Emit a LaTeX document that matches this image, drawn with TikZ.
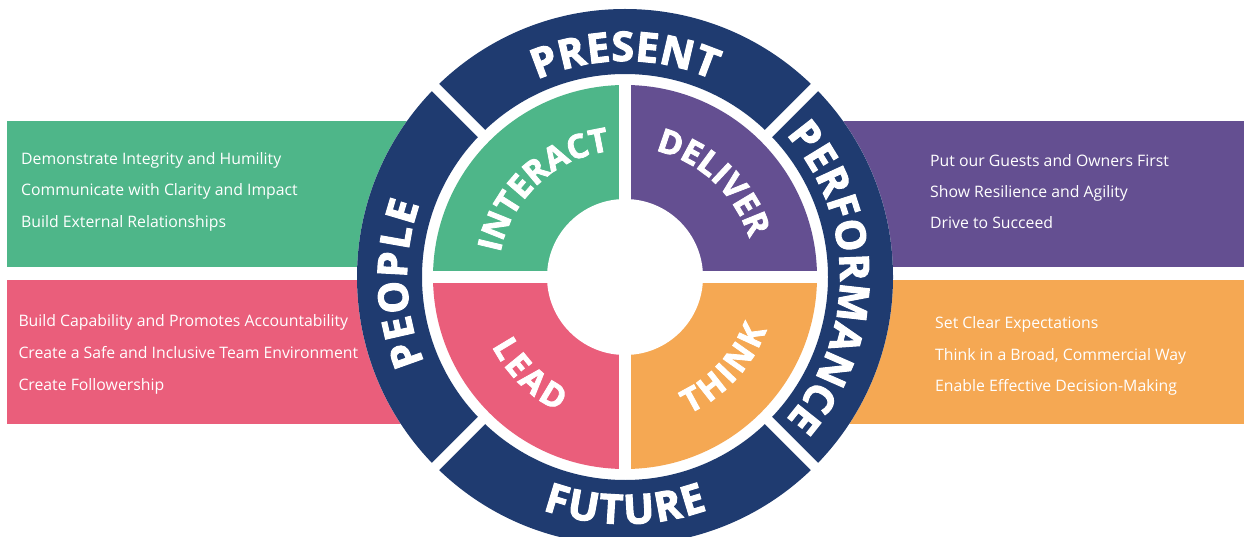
\documentclass[tikz,border=0pt]{standalone}
\usepackage{fontspec}
\setmainfont{Open Sans}
\newfontfamily\heavyfont{Open Sans}[BoldFeatures={FakeBold=2.5}]
\usetikzlibrary{calc,decorations.text}

\definecolor{wheelnavy}{HTML}{1F3B70}
\definecolor{mint}{HTML}{4EB689}
\definecolor{rose}{HTML}{EA5E7B}
\definecolor{grape}{HTML}{644F91}
\definecolor{amber}{HTML}{F5A853}

\newcommand\ringfont{\heavyfont\bfseries\fontsize{41pt}{43pt}\selectfont}
\newcommand\quadfont{\heavyfont\bfseries\fontsize{33pt}{35pt}\selectfont}
\newcommand\itemfont{\fontsize{15.8pt}{18pt}\selectfont}

\tikzset{
  item/.style={anchor=base west, inner sep=0pt, text=white, font=\itemfont},
  curved/.style 2 args={decorate, decoration={text along path,
      text color=white, text align=fit to path, text={|#1|#2}}},
  gapline/.style={white, line width=10pt},
  crossline/.style={white, line width=12pt},
}

\begin{document}
\begin{tikzpicture}[x=1pt,y=1pt]
\useasboundingbox (0,0) rectangle (1244,-537);
\coordinate (C) at (625,-277);

% coloured bands behind the wheel
\fill[mint]  (7,-121)   rectangle (625,-267);
\fill[rose]  (7,-280)   rectangle (625,-424);
\fill[grape] (625,-121) rectangle (1244,-267);
\fill[amber] (625,-280) rectangle (1244,-424);

% outer ring with four segments
\fill[white] (C) circle[radius=268pt];
\fill[wheelnavy, even odd rule] (C) circle[radius=268pt] (C) circle[radius=203pt];
\foreach \a in {45,135,225,315}
  \draw[gapline] ($(C)+(\a:198pt)$) -- ($(C)+(\a:272pt)$);

% inner quadrants
\fill[mint]  (C) -- ($(C)+(180:192pt)$) arc[start angle=180, end angle=90,  radius=192pt] -- cycle;
\fill[grape] (C) -- ($(C)+(90:192pt)$)  arc[start angle=90,  end angle=0,   radius=192pt] -- cycle;
\fill[amber] (C) -- ($(C)+(0:192pt)$)   arc[start angle=0,   end angle=-90, radius=192pt] -- cycle;
\fill[rose]  (C) -- ($(C)+(270:192pt)$) arc[start angle=270, end angle=180, radius=192pt] -- cycle;
\draw[crossline] ($(C)+(-198pt,0)$) -- ($(C)+(198pt,0)$);
\draw[crossline] ($(C)+(0,-198pt)$) -- ($(C)+(0,198pt)$);
\fill[white] (C) circle[radius=78pt];

% ring labels
\path[curved={\ringfont}{PRESENT}] ($(C)+(114:216pt)$) arc[start angle=114, end angle=66, radius=216pt];
\path[curved={\ringfont}{PEOPLE}] ($(C)+(203:218pt)$) arc[start angle=203, end angle=160.5, radius=218pt];
\path[curved={\ringfont}{PERFORMANCE}] ($(C)+(41.5:215pt)$) arc[start angle=41.5, end angle=-41.5, radius=215pt];
\path[curved={\ringfont}{FUTURE}] ($(C)+(250.5:247pt)$) arc[start angle=250.5, end angle=289.5, radius=247pt];

% quadrant labels
\path[curved={\quadfont}{INTERACT}] ($(C)+(169:127pt)$) arc[start angle=169, end angle=98.5, radius=127pt];
\path[curved={\quadfont}{DELIVER}] ($(C)+(76.5:130pt)$) arc[start angle=76.5, end angle=17.5, radius=130pt];
\path[curved={\quadfont}{LEAD}] ($(C)+(207.5:150pt)$) arc[start angle=207.5, end angle=243.5, radius=150pt];
\path[curved={\quadfont}{THINK}] ($(C)+(295:151pt)$) arc[start angle=295, end angle=339.5, radius=151pt];

% band texts
\node[item] (g1) at (21,-164.3) {Demonstrate Integrity and Humility};
\node[item] (g2) at (21,-196)   {Communicate with Clarity and Impact};
\node[item] (g3) at (21,-227.7) {Build External Relationships};

\node[item] (r1) at (18.3,-326.7) {Build Capability and Promotes Accountability};
\node[item] (r2) at (18.3,-358.3) {Create a Safe and Inclusive Team Environment};
\node[item] (r3) at (18.3,-390)   {Create Followership};

\node[item] (p1) at (930,-166.7) {Put our Guests and Owners First};
\node[item] (p2) at (930,-197.7) {Show Resilience and Agility};
\node[item] (p3) at (930,-229)   {Drive to Succeed};

\node[item] (o1) at (935,-328)   {Set Clear Expectations};
\node[item] (o2) at (935,-360)   {Think in a Broad, Commercial Way};
\node[item] (o3) at (935,-391.7) {Enable Effective Decision-Making};
\end{tikzpicture}
\end{document}
